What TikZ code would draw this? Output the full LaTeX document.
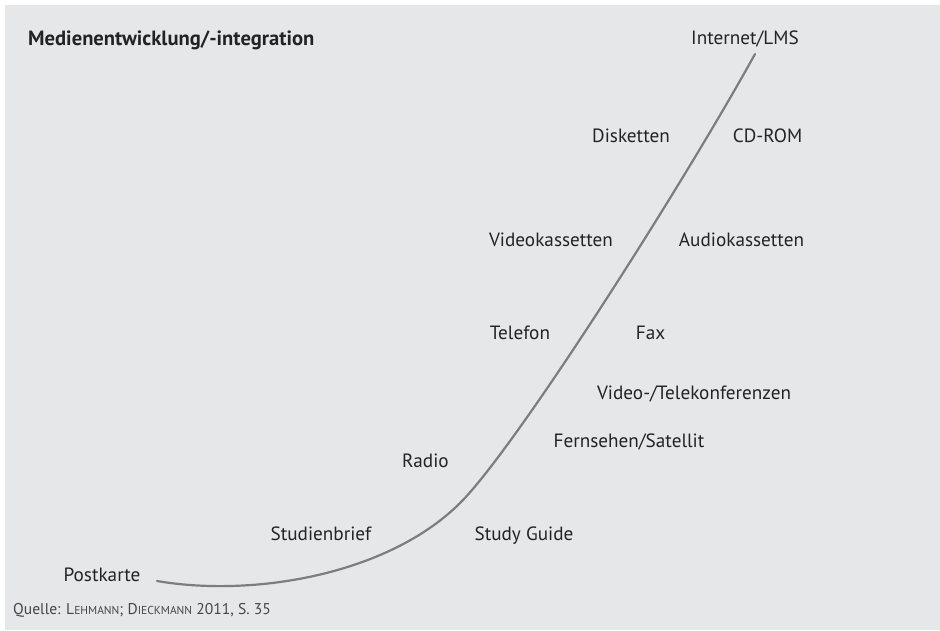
\documentclass[tikz,border=0pt]{standalone}
\usepackage{fontspec}
\setmainfont{PT Sans}
\usetikzlibrary{positioning}

\definecolor{paper}{RGB}{230,231,233}
\definecolor{ink}{RGB}{35,35,35}
\definecolor{curvegray}{RGB}{125,125,125}
\definecolor{srcgray}{RGB}{70,70,70}

\newcommand{\fakesc}[2]{#1{\fontsize{11.5}{13}\selectfont #2}}

\tikzset{
    medium/.style = {font=\fontsize{19.2}{22}\selectfont, text=ink, inner sep=0pt,
                     text height=13.5pt, text depth=0pt},
    heading/.style = {font=\fontsize{20.6}{24}\selectfont\bfseries, text=ink, inner sep=0pt,
                      text height=14pt, text depth=0pt},
    source/.style = {font=\fontsize{15.6}{18}\selectfont, text=srcgray, inner sep=0pt,
                     text height=11pt, text depth=0pt},
    growth/.style = {draw=curvegray, line width=2.2pt, line cap=round}
}

\begin{document}
\begin{tikzpicture} [x=1pt, y=-1pt, on grid]
        \fill [white] (0,0) rectangle (940,630);
        \fill [paper] (5,5) rectangle (940,630);
        \useasboundingbox (0,0) rectangle (940,630);

        \node (title) [heading, anchor=west] at (28,38) {Medienentwicklung/-integration};

        \node (inet) [medium] at (745,38) {Internet/LMS};
        \node (disk) [medium] at (631,136) {Disketten};
        \node (cdrom) [medium, right=136.5pt of disk] {CD-ROM};
        \node (vhs) [medium] at (551,240) {Videokassetten};
        \node (audio) [medium, right=190.5pt of vhs] {Audiokassetten};
        \node (tel) [medium] at (520,333) {Telefon};
        \node (fax) [medium, right=130.5pt of tel] {Fax};
        \node (vtk) [medium] at (694,393) {Video-/Telekonferenzen};
        \node (tv) [medium] at (629,441) {Fernsehen/Satellit};
        \node (radio) [medium] at (425.5,461) {Radio};
        \node (brief) [medium] at (321,534) {Studienbrief};
        \node (guide) [medium, right=203pt of brief] {Study Guide};
        \node (post) [medium] at (102,575) {Postkarte};

        \node (src) [source, anchor=west] at (13,609)
            {Quelle: \fakesc{L}{EHMANN}; \fakesc{D}{IECKMANN} 2011, S.~35};

        % the curve
        \coordinate (c0) at (157,581);
        \coordinate (c1) at (463,500);
        \coordinate (c2) at (755,54);
        \draw [growth] (c0) .. controls (257,598) and (393,573) .. (c1)
                            .. controls (523,437) and (689,174) .. (c2);
    \end{tikzpicture}
\end{document}
